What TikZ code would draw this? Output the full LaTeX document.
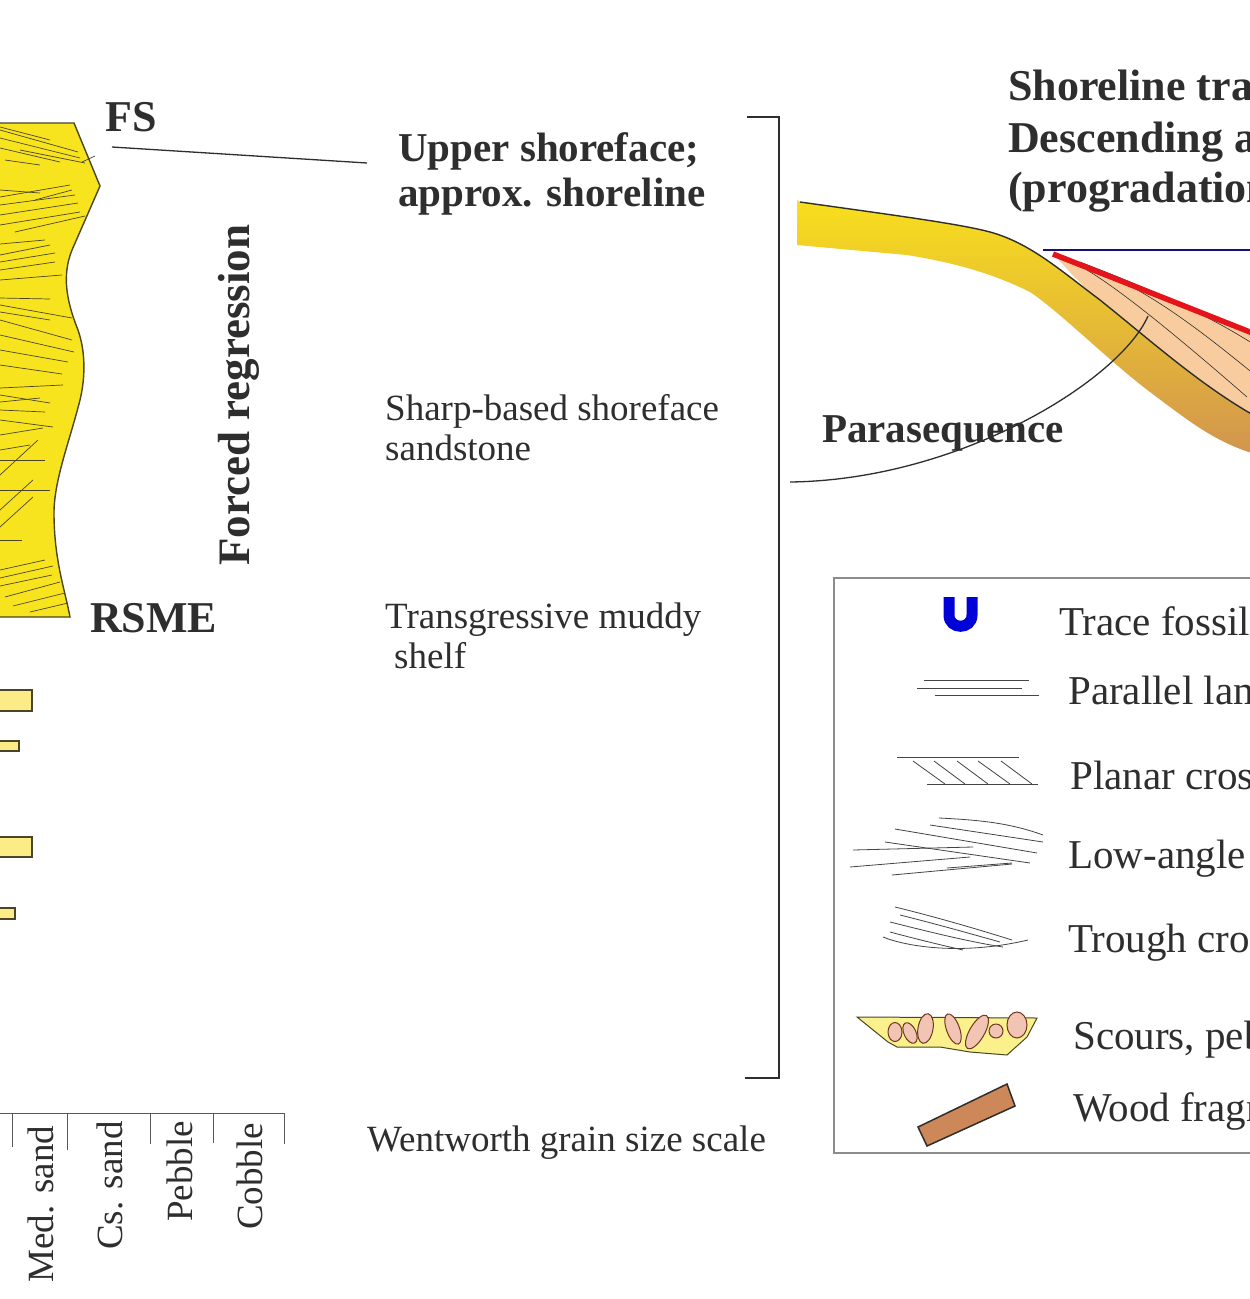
\documentclass[tikz,border=0pt]{standalone}
\usepackage{fontspec}
\setmainfont{Liberation Serif}
\definecolor{txtc}{HTML}{2E2E2E}
\definecolor{colyel}{HTML}{F8E41E}
\definecolor{baryel}{HTML}{FBEC88}
\definecolor{lamc}{HTML}{4A4526}
\definecolor{peach}{HTML}{F8CC9E}
\definecolor{redl}{HTML}{E5141B}
\definecolor{navyl}{HTML}{12127A}
\definecolor{pinkc}{HTML}{F2C4B4}
\definecolor{woodc}{HTML}{CC8858}
\definecolor{scourc}{HTML}{FAF08C}
\definecolor{legline}{HTML}{444444}
\begin{document}
\begin{tikzpicture}[x=1pt,y=-1pt,
  lbl/.style={inner sep=0pt,text=txtc,anchor=base west},
  hb/.style={lbl,font=\fontsize{44}{50}\selectfont\bfseries},
  sb/.style={lbl,font=\fontsize{41}{46}\selectfont\bfseries},
  tb/.style={lbl,font=\fontsize{44}{50}\selectfont\bfseries},
  rg/.style={lbl,font=\fontsize{37}{41}\selectfont},
  lg/.style={lbl,font=\fontsize{41}{46}\selectfont},
  lam/.style={lamc,line width=0.7pt},
  leg/.style={legline,line width=0.8pt},
  dk/.style={txtc,line width=1.6pt}]
\useasboundingbox (0,0) rectangle (1250,1299);
\fill[white] (0,0) rectangle (1250,1299);
\clip (0,0) rectangle (1250,1299);

% ---------- left column ----------
\draw[fill=colyel,draw=lamc,line width=1.4pt] (-5,123) -- (74,123) -- (100,186) -- (72,250)
  .. controls (62,275) and (66,300) .. (78,330)
  .. controls (85,350) and (86,375) .. (80,400)
  .. controls (70,440) and (54,480) .. (54,513)
  .. controls (54,560) and (65,590) .. (70,617) -- (-5,617) -- cycle;
\foreach \a/\b/\c/\d in {0/130/78/152, 0/138/80/158, 0/148/60/162, 5/160/40/165, 82/162/95/156,
  0/127/50/140, 20/150/85/163,
  0/190/40/193, 0/197/70/185, 0/205/75/195, 0/215/78/203, 0/225/80/212, 15/232/85/216, 35/200/72/190,
  0/255/50/245, 0/262/55/253, 0/270/55/262, 0/280/62/275, 0/298/50/299, 0/244/45/240,
  0/305/72/318, 0/320/72/340, 0/335/74/352, 0/350/68/362, 0/365/62/374, 0/312/50/320,
  0/388/63/385, 0/395/50/403, 0/410/45/412, 0/420/53/427, 0/435/43/428, 0/402/40/398,
  0/460/45/460, 0/475/38/440, 0/490/50/490, 0/510/33/480, 0/527/33/497, 0/540/22/540, 0/450/30/445,
  0/578/53/566, 0/586/52/575, 5/597/60/582, 13/606/65/593, 30/612/68/603, 0/570/45/560}
  \draw[lam] (\a,\b) -- (\c,\d);

% bars
\foreach \t/\r/\bb in {690/32/711, 741/19/751, 837/32/857, 908/15/919}
  \draw[fill=baryel,draw=lamc,line width=1.5pt] (-5,\t) rectangle (\r,\bb);

% grain-size scale
\draw[txtc!80,line width=1pt] (-5,1113) -- (285,1113);
\foreach \x/\y in {12/1147, 67/1150, 150/1144, 213/1143, 284/1144}
  \draw[txtc!80,line width=1pt] (\x,1113) -- (\x,\y);
\node[rg,rotate=90] (medsand) at (53,1283) {Med. sand};
\node[rg,rotate=90] (cssand) at (122,1250) {Cs. sand};
\node[rg,rotate=90] (pebble) at (192,1222) {Pebble};
\node[rg,rotate=90] (cobble) at (262,1230) {Cobble};

% labels of column
\node[hb] (fs) at (105,131) {FS};
\node[hb] (rsme) at (90,632) {RSME};
\node[hb,font=\fontsize{45}{50}\selectfont\bfseries,rotate=90] (forced) at (249,566) {Forced regression};

\node[sb] (upper1) at (398,161) {Upper shoreface;};
\node[sb] (upper2) at (398,206) {approx. shoreline};
\coordinate (fsA) at (112,147);
\coordinate (fsB) at (367,163);
\draw[txtc,line width=1.3pt] (fsA) -- (fsB);

\node[rg] (sharp1) at (385,420) {Sharp-based shoreface};
\node[rg] (sharp2) at (385,460) {sandstone};
\node[rg] (trans1) at (385,628) {Transgressive muddy};
\node[rg] (trans2) at (394,668) {shelf};
\node[rg] (went) at (367,1151) {Wentworth grain size scale};

% bracket
\coordinate (brA) at (747,117);
\coordinate (brB) at (779,117);
\coordinate (brC) at (779,1078);
\coordinate (brD) at (745,1078);
\draw[dk] (brA) -- (brB) -- (brC) -- (brD);

% ---------- right diagram ----------
\node[tb] (title1) at (1008,100) {Shoreline trajectory:};
\node[tb] (title2) at (1008,152) {Descending and};
\node[tb] (title3) at (1008,202) {(progradation)};

% band
\shade[top color=colyel!95!orange,middle color=colyel!70!brown,bottom color=woodc!90!yellow]
  (797,200) -- (800,202) .. controls (900,216) and (960,224) .. (990,232)
  .. controls (1030,243) and (1060,270) .. (1100,300)
  .. controls (1150,340) and (1200,385) .. (1255,416)
  -- (1255,454) .. controls (1215,442) and (1190,422) .. (1150,392)
  .. controls (1110,362) and (1060,312) .. (1030,292)
  .. controls (990,272) and (950,262) .. (907,255)
  -- (797,245) -- cycle;
% peach wedge
\fill[peach] (1053,254) -- (1255,334) -- (1255,416)
  .. controls (1200,385) and (1150,340) .. (1100,300)
  .. controls (1080,285) and (1065,266) .. (1053,254) -- cycle;
\draw[txtc,line width=0.6pt] (1087,270) .. controls (1120,290) and (1170,330) .. (1247,397);
\draw[txtc,line width=0.6pt] (1113,277) .. controls (1160,300) and (1200,330) .. (1255,375);
\draw[txtc,line width=0.6pt] (1080,262) .. controls (1140,285) and (1200,310) .. (1255,345);
\draw[txtc,line width=1.4pt] (800,202) .. controls (900,216) and (960,224) .. (990,232)
  .. controls (1030,243) and (1060,270) .. (1100,300)
  .. controls (1150,340) and (1200,385) .. (1255,416);
\draw[navyl,line width=2pt] (1043,250) -- (1255,250);
\draw[redl,line width=5.5pt] (1053,254) -- (1255,334);

\node[sb] (para) at (822,442) {Parasequence};
\coordinate (psA) at (1148,316);
\coordinate (psB) at (790,482);
\draw[txtc,line width=1.3pt] (psA) .. controls (1120,380) and (960,480) .. (psB);

% ---------- legend ----------
\draw[black!45,line width=1.5pt] (834,578) rectangle (1270,1153);
% trace fossil
\draw[blue!85!black,line width=11pt] (949,597) -- (949,615) .. controls (949,630) and (972,630) .. (972,615) -- (972,597);
\node[lg] (trace) at (1059,635) {Trace fossils};
% parallel lamination
\draw[leg] (924,680) -- (1029,680);
\draw[leg] (917,688) -- (1022,688);
\draw[leg] (935,695) -- (1039,695);
\node[lg] (parallel) at (1068,704) {Parallel lamination};
% planar cross
\draw[leg] (897,757) -- (1019,757);
\draw[leg] (927,784) -- (1038,784);
\foreach \s/\e in {913/945, 934/965, 957/988, 978/1010, 1001/1032}
  \draw[leg] (\s,761) -- (\e,784);
\node[lg] (planar) at (1070,789) {Planar cross-stratification};
% low-angle
\draw[leg] (939,818) .. controls (980,820) and (1010,823) .. (1043,835);
\draw[leg] (930,825) -- (1043,842);
\draw[leg] (895,829) -- (1037,853);
\draw[leg] (885,842) -- (1030,863);
\draw[leg] (853,850) -- (973,847);
\draw[leg] (850,867) -- (970,857);
\draw[leg] (947,868) -- (1012,863);
\draw[leg] (892,875) -- (1012,864);
\node[lg] (lowangle) at (1068,868) {Low-angle cross-stratification};
% trough
\draw[leg] (895,907) .. controls (940,918) and (980,930) .. (1012,940);
\draw[leg] (900,915) .. controls (940,925) and (975,935) .. (1000,942);
\draw[leg] (890,922) .. controls (930,932) and (970,942) .. (1003,947);
\draw[leg] (890,932) .. controls (920,940) and (945,946) .. (963,950);
\draw[leg] (883,937) .. controls (905,946) and (960,956) .. (1028,940);
\node[lg] (trough) at (1068,952) {Trough cross-stratification};
% scours
\draw[fill=scourc,draw=lamc,line width=1pt] (857,1017) -- (1037,1018) -- (1027,1037)
  -- (1007,1055) -- (970,1052) -- (940,1047) -- (897,1047) -- (888,1042) -- cycle;
\foreach \cx/\cy/\rx/\ry/\ang in {895/1032/7/9.5/0, 910/1033/6/11/25, 925.5/1028.5/7.5/15/-10,
  953/1029/6.5/16/20, 977/1032/7.5/19/-30, 996/1031/7/7/0, 1017/1025/10/13/0}
  \draw[fill=pinkc,draw=lamc!80!red,line width=1pt,rotate around={\ang:(\cx,\cy)}]
    (\cx,\cy) ellipse [x radius=\rx, y radius=\ry];
\node[lg] (scours) at (1073,1049) {Scours, pebbles};
% wood
\draw[fill=woodc,draw=txtc,line width=1.5pt] (918,1127) -- (1007,1084) -- (1015,1106) -- (927,1146) -- cycle;
\node[lg] (wood) at (1073,1121) {Wood fragments};
\end{tikzpicture}
\end{document}
